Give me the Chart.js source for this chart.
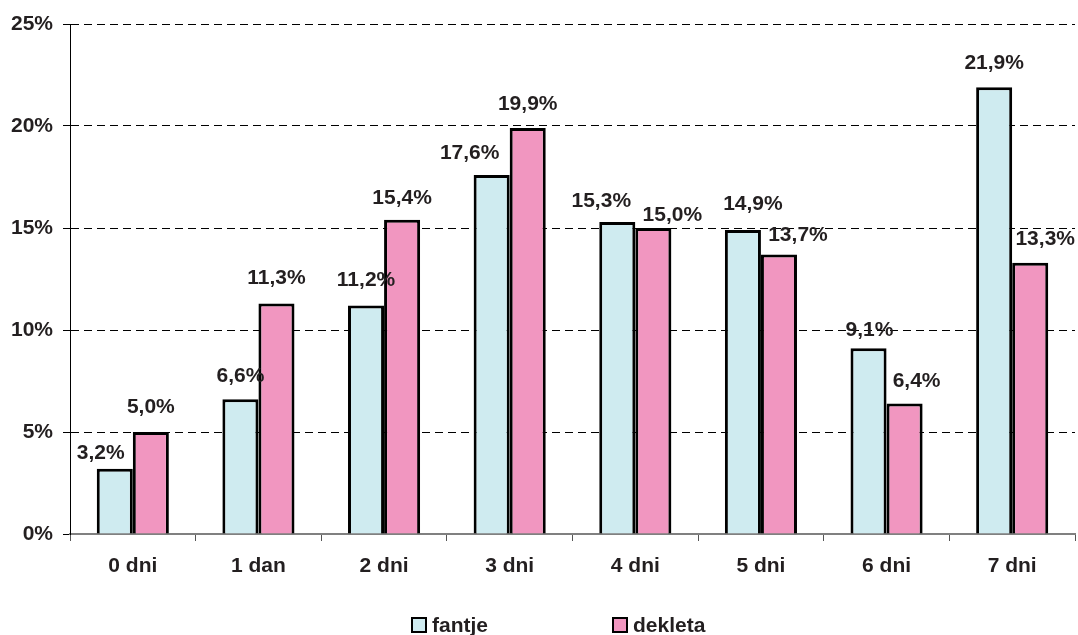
<!DOCTYPE html>
<html>
<head>
<meta charset="utf-8">
<script src="https://cdn.jsdelivr.net/npm/chart.js@4"></script>
<style>
  html, body { margin: 0; padding: 0; background: #fff; }
  #wrap { width: 1078px; height: 635px; }
</style>
</head>
<body>
<div id="wrap"><canvas id="dni"></canvas></div>
<script>
// število dni telesne dejavnosti, delež po spolu
var categories = ['0 dni', '1 dan', '2 dni', '3 dni', '4 dni', '5 dni', '6 dni', '7 dni'];
var fantje  = [3.2, 6.6, 11.2, 17.6, 15.3, 14.9, 9.1, 21.9];
var dekleta = [5.0, 11.3, 15.4, 19.9, 15.0, 13.7, 6.4, 13.3];
var yTicks  = [0, 5, 10, 15, 20, 25];

var INK = '#231f20';
var FONT = { family: 'Arial, "Liberation Sans", sans-serif', size: 21, weight: 'bold' };

// premiki napisov nad stolpci (da se ne prekrivajo)
var labelShift = [
  { dx: [-14, 0, 0, -22, -16, 10, 1, 0], dy: [-16, -23, -25, -22, -21, -26, -18, -24] },
  { dx: [0, 0, 0, 0, 19, 19, 12, 15],     dy: [-25, -25, -22, -24, -13, -19, -22, -23] }
];

function pct(v) {
  return v.toFixed(1).replace('.', ',') + '%';
}

var valueLabels = {
  id: 'valueLabels',
  afterDatasetsDraw: function (chart) {
    var ctx = chart.ctx;
    ctx.save();
    ctx.font = FONT.weight + ' ' + FONT.size + 'px ' + FONT.family;
    ctx.fillStyle = INK;
    ctx.textAlign = 'center';
    ctx.textBaseline = 'middle';
    chart.data.datasets.forEach(function (ds, di) {
      chart.getDatasetMeta(di).data.forEach(function (bar, i) {
        var s = labelShift[di];
        ctx.fillText(pct(ds.data[i]), bar.x + s.dx[i], bar.y + s.dy[i]);
      });
    });
    ctx.restore();
  }
};

// legenda spodaj: kvadratek + ime
var legendRow = {
  id: 'legendRow',
  afterDraw: function (chart) {
    var ctx = chart.ctx;
    var starts = [412, 613];
    var y = 625;
    ctx.save();
    ctx.font = FONT.weight + ' ' + FONT.size + 'px ' + FONT.family;
    ctx.textBaseline = 'middle';
    ctx.textAlign = 'left';
    chart.data.datasets.forEach(function (ds, di) {
      var x = starts[di];
      ctx.fillStyle = ds.backgroundColor;
      ctx.fillRect(x, y - 7, 14, 14);
      ctx.lineWidth = 2;
      ctx.strokeStyle = '#000';
      ctx.strokeRect(x, y - 7, 14, 14);
      ctx.fillStyle = INK;
      ctx.fillText(ds.label, x + 20, y + 1);
    });
    ctx.restore();
  }
};

new Chart(document.getElementById('dni'), {
  type: 'bar',
  data: {
    labels: categories,
    datasets: [
      { label: 'fantje',  data: fantje,  backgroundColor: '#cfebf0', borderColor: '#000', borderWidth: 3 },
      { label: 'dekleta', data: dekleta, backgroundColor: '#f196c0', borderColor: '#000', borderWidth: 3 }
    ]
  },
  options: {
    responsive: true,
    maintainAspectRatio: false,
    animation: false,
    datasets: { bar: { categoryPercentage: 0.574, barPercentage: 1.0 } },
    layout: { padding: { top: 24, right: 3, left: 0, bottom: 41 } },
    plugins: {
      legend: { display: false },
      tooltip: { enabled: false }
    },
    scales: {
      x: {
        afterFit: function (scale) { scale.height = 60; },
        grid: { offset: true, drawOnChartArea: false, drawTicks: true, tickLength: 7, color: '#555' },
        border: { color: '#808080', width: 2 },
        ticks: { color: INK, font: FONT, padding: 13 }
      },
      y: {
        min: 0,
        max: 25,
        afterFit: function (scale) { scale.width = 70; },
        afterBuildTicks: function (scale) {
          scale.ticks = yTicks.map(function (v) { return { value: v }; });
        },
        grid: { color: '#000', lineWidth: 1, tickLength: 7, tickColor: '#000', tickBorderDash: [] },
        border: { color: '#000', width: 1, dash: [8, 5] },
        ticks: {
          color: INK,
          font: FONT,
          padding: 10,
          callback: function (v) { return v + '%'; }
        }
      }
    }
  },
  plugins: [valueLabels, legendRow]
});
</script>
</body>
</html>
